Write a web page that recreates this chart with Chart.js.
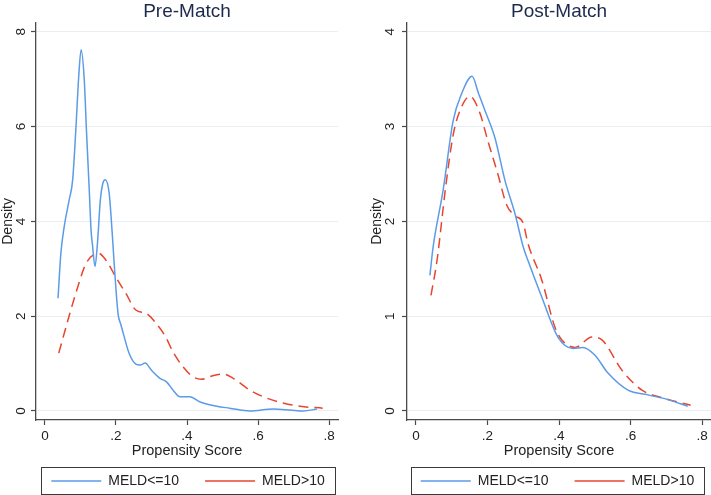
<!DOCTYPE html>
<html>
<head>
<meta charset="utf-8">
<script src="https://cdn.jsdelivr.net/npm/chart.js@4.4.1/dist/chart.umd.min.js"></script>
<style>
  html, body { margin: 0; padding: 0; background: #ffffff; }
  #wrap { position: relative; width: 711px; height: 495px; overflow: hidden; }
  #c1 { position: absolute; left: 0; top: 0; }
  #c2 { position: absolute; left: 355px; top: 0; }
</style>
</head>
<body>
<div id="wrap">
  <canvas id="c1" width="355" height="495"></canvas>
  <canvas id="c2" width="356" height="495"></canvas>
</div>
<script>
// ---- Data ----
const panelTitles = ['Pre-Match', 'Post-Match'];
const seriesNames = ['MELD<=10', 'MELD>10'];
const xTickValues = [0, 0.2, 0.4, 0.6, 0.8];
const xTickLabels = ['0', '.2', '.4', '.6', '.8'];
const preYTicks = [0, 2, 4, 6, 8];
const postYTicks = [0, 1, 2, 3, 4];

// Pre-Match, MELD<=10
const preLowX = [0.037, 0.045, 0.054, 0.068, 0.078, 0.087, 0.095, 0.102, 0.111, 0.117, 0.125, 0.130, 0.134, 0.141, 0.148, 0.156, 0.163, 0.170, 0.181, 0.189, 0.196, 0.206, 0.214, 0.222, 0.237, 0.256, 0.268, 0.282, 0.300, 0.324, 0.343, 0.361, 0.380, 0.408, 0.437, 0.484, 0.520, 0.577, 0.643, 0.690, 0.727, 0.766];
const preLowY = [2.38, 3.33, 3.87, 4.44, 4.86, 5.92, 7.03, 7.62, 6.97, 5.92, 4.65, 3.81, 3.50, 3.05, 3.54, 4.44, 4.80, 4.88, 4.59, 3.81, 3.00, 2.05, 1.82, 1.60, 1.22, 0.99, 0.97, 1.01, 0.86, 0.69, 0.61, 0.44, 0.30, 0.30, 0.19, 0.10, 0.06, 0.00, 0.04, 0.02, 0.00, 0.04];
// Pre-Match, MELD>10
const preHighX = [0.039, 0.068, 0.096, 0.115, 0.150, 0.172, 0.200, 0.228, 0.256, 0.285, 0.313, 0.340, 0.361, 0.389, 0.417, 0.441, 0.470, 0.501, 0.530, 0.577, 0.625, 0.670, 0.718, 0.782];
const preHighY = [1.22, 2.00, 2.70, 3.10, 3.33, 3.18, 2.82, 2.48, 2.13, 2.06, 1.85, 1.56, 1.24, 0.93, 0.72, 0.67, 0.74, 0.78, 0.69, 0.44, 0.27, 0.17, 0.10, 0.06];
// Post-Match, MELD<=10
const postLowX = [0.039, 0.048, 0.076, 0.104, 0.128, 0.157, 0.175, 0.193, 0.221, 0.249, 0.277, 0.300, 0.313, 0.352, 0.397, 0.439, 0.467, 0.500, 0.537, 0.593, 0.649, 0.705, 0.760];
const postLowY = [1.43, 1.73, 2.33, 3.06, 3.35, 3.53, 3.35, 3.17, 2.88, 2.43, 2.08, 1.73, 1.59, 1.20, 0.78, 0.66, 0.67, 0.59, 0.40, 0.22, 0.17, 0.12, 0.05];
// Post-Match, MELD>10
const postHighX = [0.042, 0.059, 0.083, 0.105, 0.129, 0.151, 0.179, 0.201, 0.229, 0.254, 0.277, 0.300, 0.313, 0.352, 0.389, 0.408, 0.445, 0.492, 0.520, 0.576, 0.632, 0.688, 0.768];
const postHighY = [1.22, 1.59, 2.36, 2.93, 3.22, 3.32, 3.14, 2.85, 2.50, 2.17, 2.06, 1.98, 1.77, 1.38, 0.88, 0.75, 0.67, 0.78, 0.75, 0.43, 0.22, 0.14, 0.06];

// ---- Styling ----
const FONT = "'Liberation Sans', Arial, Helvetica, sans-serif";
const BLUE = '#5b9be8';
const RED = '#e8452f';
const AXIS = '#4a4a4a';
const GRID = '#e7eff3';
const TEXT = '#222222';

const toPts = (xs, ys) => xs.map((x, i) => ({ x: x, y: ys[i] }));

const layoutFix = {
  id: 'layoutFix',
  afterLayout(chart, args, o) {
    const lg = chart.legend;
    if (lg) {
      lg.left = o.box[0] - 40;
      lg.right = o.box[0] + o.box[2] + 40;
      lg.top = o.legendTop;
      lg.bottom = chart.height;
    }
    const tb = chart.titleBlock;
    if (tb) {
      tb.left = chart.chartArea.left;
      tb.right = chart.chartArea.right;
    }
  },
  afterDraw(chart, args, o) {
    const ctx = chart.ctx;
    ctx.save();
    ctx.strokeStyle = '#3a3a3a';
    ctx.lineWidth = 1;
    ctx.setLineDash([]);
    ctx.strokeRect(o.box[0] + 0.5, o.box[1] + 0.5, o.box[2], o.box[3]);
    ctx.restore();
  }
};

function makeChart(canvasId, title, lowPts, highPts, yTicks, yMin, yMax, opts) {
  return new Chart(document.getElementById(canvasId), {
    type: 'line',
    data: {
      datasets: [
        {
          label: seriesNames[0],
          data: lowPts,
          borderColor: BLUE,
          backgroundColor: BLUE,
          borderWidth: 1.5,
          pointRadius: 0,
          fill: false,
          cubicInterpolationMode: 'monotone'
        },
        {
          label: seriesNames[1],
          data: highPts,
          borderColor: RED,
          backgroundColor: RED,
          borderWidth: 1.5,
          borderDash: [10, 6],
          pointRadius: 0,
          fill: false,
          cubicInterpolationMode: 'monotone'
        }
      ]
    },
    options: {
      responsive: false,
      animation: false,
      events: [],
      layout: { padding: { left: opts.padLeft, right: opts.padRight, top: 0, bottom: 0 } },
      scales: {
        x: {
          type: 'linear',
          min: -0.025,
          max: 0.825,
          afterBuildTicks: (s) => { s.ticks = xTickValues.map(v => ({ value: v })); },
          afterFit: (s) => { s.height = 40; },
          ticks: {
            callback: (v, i) => xTickLabels[i],
            maxRotation: 0,
            minRotation: 0,
            padding: 3,
            color: TEXT,
            font: { family: FONT, size: 13.5 }
          },
          grid: { drawOnChartArea: false, drawTicks: true, tickLength: 5, tickColor: AXIS, tickWidth: 1.2 },
          border: { color: AXIS, width: 1.3 },
          title: {
            display: true,
            text: 'Propensity Score',
            color: TEXT,
            font: { family: FONT, size: 14.5 },
            padding: { top: 0, bottom: 0 }
          }
        },
        y: {
          type: 'linear',
          min: yMin,
          max: yMax,
          afterBuildTicks: (s) => { s.ticks = yTicks.map(v => ({ value: v })); },
          afterFit: (s) => { s.width = opts.yWidth; },
          ticks: {
            minRotation: 90,
            maxRotation: 90,
            crossAlign: 'center',
            padding: opts.yPad,
            color: TEXT,
            font: { family: FONT, size: 13.5 },
            callback: (v) => String(v)
          },
          grid: { color: GRID, lineWidth: 1, drawTicks: true, tickLength: 5, tickColor: AXIS, tickWidth: 1.2 },
          border: { color: AXIS, width: 1.3 },
          title: {
            display: true,
            text: 'Density',
            color: TEXT,
            font: { family: FONT, size: 14 },
            padding: { top: 0, bottom: 0 }
          }
        }
      },
      plugins: {
        title: {
          display: true,
          text: title,
          color: '#1e2a4d',
          font: { family: FONT, size: 19, weight: 'normal' },
          padding: { top: 0, bottom: 0 }
        },
        legend: {
          display: true,
          position: 'bottom',
          maxHeight: 35,
          labels: {
            usePointStyle: true,
            pointStyle: 'line',
            pointStyleWidth: 50,
            boxWidth: 50,
            padding: 26,
            color: TEXT,
            font: { family: FONT, size: 14 }
          }
        },
        tooltip: { enabled: false },
        layoutFix: { box: opts.box, legendTop: 448 }
      }
    },
    plugins: [layoutFix]
  });
}

makeChart('c1', panelTitles[0], toPts(preLowX, preLowY), toPts(preHighX, preHighY), preYTicks, -0.19, 8.19,
  { padLeft: 0, padRight: 17, yWidth: 36, yPad: 6, box: [41, 467, 294, 27] });
makeChart('c2', panelTitles[1], toPts(postLowX, postLowY), toPts(postHighX, postHighY), postYTicks, -0.095, 4.095,
  { padLeft: 14, padRight: 0, yWidth: 38, yPad: 8, box: [56, 467, 293, 27] });
</script>
</body>
</html>
